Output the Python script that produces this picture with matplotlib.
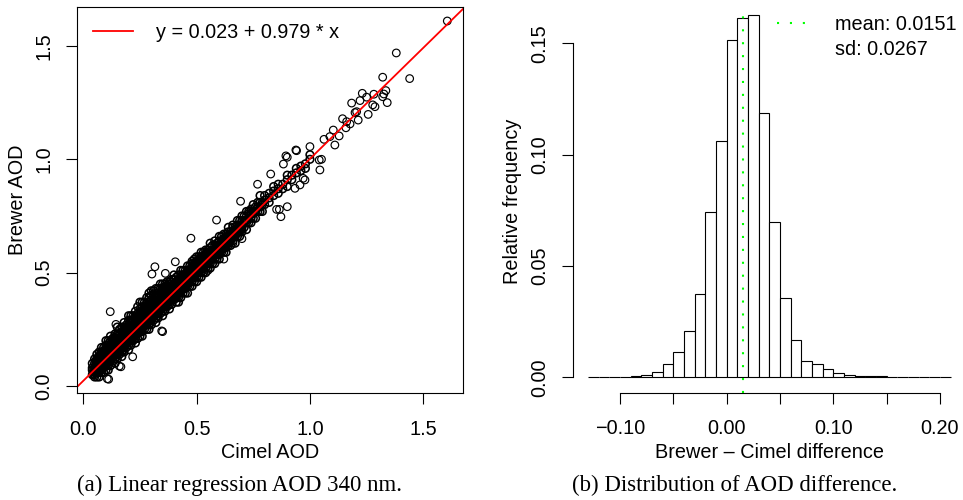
import matplotlib
matplotlib.use("Agg")
import matplotlib.pyplot as plt
from matplotlib.lines import Line2D
import numpy as np

plt.rcParams['font.family'] = ['Liberation Sans', 'DejaVu Sans']

# --- (a) scatter: Cimel vs Brewer AOD
band_x = [0.04, 0.05, 0.06, 0.07, 0.08, 0.09, 0.10, 0.11, 0.12, 0.13,
          0.14, 0.15, 0.16, 0.17, 0.18, 0.19, 0.20, 0.21, 0.22, 0.23,
          0.24, 0.25, 0.26, 0.27, 0.28, 0.29, 0.30, 0.31, 0.32, 0.33,
          0.34, 0.35, 0.36, 0.37, 0.38, 0.39, 0.40, 0.41, 0.42, 0.43,
          0.44, 0.45, 0.46, 0.47, 0.48, 0.49, 0.50, 0.51, 0.52, 0.53,
          0.54, 0.55, 0.56, 0.57, 0.58, 0.59, 0.60, 0.61, 0.62, 0.63,
          0.64, 0.65, 0.66, 0.67, 0.68, 0.69, 0.70, 0.71, 0.72, 0.73,
          0.74, 0.75, 0.76, 0.77, 0.78, 0.79, 0.80, 0.82, 0.84, 0.86,
          0.88, 0.90, 0.92, 0.94, 0.96, 0.98, 1.00]
band_y = [
    [0.05, 0.07, 0.08, 0.10],
    [0.04, 0.05, 0.06, 0.07, 0.08, 0.10, 0.12],
    [0.04, 0.06, 0.07, 0.08, 0.09, 0.10, 0.12, 0.14],
    [0.04, 0.06, 0.08, 0.09, 0.10, 0.12, 0.13, 0.15],
    [0.06, 0.08, 0.09, 0.10, 0.12, 0.13, 0.15, 0.17],
    [0.06, 0.08, 0.09, 0.11, 0.12, 0.13, 0.15, 0.17],
    [0.07, 0.09, 0.11, 0.12, 0.13, 0.15, 0.16, 0.18, 0.20],
    [0.07, 0.09, 0.11, 0.12, 0.13, 0.15, 0.16, 0.18, 0.20],
    [0.09, 0.11, 0.13, 0.14, 0.15, 0.16, 0.18, 0.20, 0.22],
    [0.11, 0.13, 0.14, 0.15, 0.17, 0.18, 0.20, 0.21],
    [0.10, 0.12, 0.14, 0.16, 0.17, 0.18, 0.20, 0.21, 0.23],
    [0.12, 0.14, 0.16, 0.17, 0.18, 0.20, 0.21, 0.23, 0.26],
    [0.14, 0.15, 0.17, 0.18, 0.20, 0.21, 0.23, 0.25],
    [0.13, 0.15, 0.17, 0.18, 0.19, 0.20, 0.22, 0.24, 0.26],
    [0.15, 0.17, 0.19, 0.20, 0.22, 0.23, 0.24, 0.26, 0.28],
    [0.17, 0.19, 0.20, 0.21, 0.22, 0.24, 0.26, 0.27],
    [0.16, 0.18, 0.20, 0.21, 0.22, 0.24, 0.25, 0.27, 0.29, 0.31],
    [0.18, 0.20, 0.22, 0.23, 0.24, 0.25, 0.27, 0.29, 0.31],
    [0.20, 0.22, 0.23, 0.24, 0.26, 0.27, 0.29, 0.31],
    [0.19, 0.21, 0.23, 0.25, 0.26, 0.27, 0.29, 0.31, 0.33],
    [0.21, 0.23, 0.25, 0.26, 0.27, 0.29, 0.30, 0.32, 0.35],
    [0.22, 0.24, 0.25, 0.27, 0.28, 0.29, 0.31, 0.32, 0.34, 0.37],
    [0.22, 0.24, 0.26, 0.27, 0.28, 0.30, 0.31, 0.33, 0.35, 0.37],
    [0.25, 0.27, 0.28, 0.29, 0.30, 0.32, 0.33, 0.35, 0.37],
    [0.25, 0.27, 0.29, 0.30, 0.32, 0.33, 0.35, 0.37, 0.39],
    [0.25, 0.27, 0.29, 0.31, 0.32, 0.33, 0.35, 0.37, 0.39, 0.41],
    [0.27, 0.29, 0.31, 0.32, 0.33, 0.35, 0.36, 0.38, 0.40, 0.42],
    [0.29, 0.31, 0.32, 0.33, 0.35, 0.36, 0.38, 0.40, 0.42],
    [0.28, 0.30, 0.32, 0.33, 0.34, 0.36, 0.37, 0.39, 0.41, 0.43],
    [0.30, 0.32, 0.34, 0.35, 0.36, 0.37, 0.39, 0.41, 0.43],
    [0.32, 0.34, 0.35, 0.36, 0.37, 0.39, 0.41, 0.43, 0.45],
    [0.31, 0.33, 0.35, 0.37, 0.38, 0.39, 0.41, 0.43, 0.45],
    [0.33, 0.35, 0.37, 0.38, 0.39, 0.41, 0.42, 0.44, 0.45],
    [0.35, 0.37, 0.38, 0.39, 0.41, 0.42, 0.44, 0.46],
    [0.34, 0.36, 0.38, 0.39, 0.40, 0.42, 0.43, 0.45, 0.46],
    [0.36, 0.38, 0.40, 0.41, 0.42, 0.43, 0.45, 0.47],
    [0.38, 0.40, 0.41, 0.42, 0.43, 0.45, 0.47, 0.49],
    [0.37, 0.39, 0.40, 0.42, 0.43, 0.44, 0.46, 0.48],
    [0.37, 0.39, 0.41, 0.43, 0.44, 0.46, 0.47, 0.49],
    [0.39, 0.41, 0.43, 0.44, 0.46, 0.47, 0.49, 0.51],
    [0.41, 0.43, 0.44, 0.45, 0.46, 0.48, 0.49, 0.51],
    [0.41, 0.43, 0.45, 0.46, 0.48, 0.49, 0.51],
    [0.41, 0.44, 0.45, 0.47, 0.48, 0.49, 0.51, 0.53],
    [0.44, 0.46, 0.47, 0.48, 0.49, 0.51, 0.53],
    [0.44, 0.46, 0.48, 0.49, 0.51, 0.52, 0.54, 0.55],
    [0.46, 0.48, 0.50, 0.51, 0.52, 0.54, 0.56],
    [0.46, 0.48, 0.50, 0.51, 0.52, 0.54, 0.55, 0.57],
    [0.48, 0.50, 0.51, 0.52, 0.54, 0.55, 0.57],
    [0.48, 0.50, 0.52, 0.53, 0.54, 0.55, 0.57, 0.59],
    [0.50, 0.52, 0.54, 0.55, 0.57, 0.59],
    [0.50, 0.52, 0.54, 0.55, 0.57, 0.58, 0.60],
    [0.52, 0.54, 0.55, 0.56, 0.57, 0.59, 0.60],
    [0.52, 0.54, 0.56, 0.57, 0.59, 0.61, 0.63],
    [0.54, 0.56, 0.58, 0.59, 0.60, 0.62],
    [0.54, 0.56, 0.58, 0.59, 0.60, 0.62, 0.64],
    [0.56, 0.58, 0.59, 0.60, 0.62, 0.63],
    [0.56, 0.58, 0.60, 0.61, 0.62, 0.64, 0.66],
    [0.59, 0.60, 0.62, 0.63, 0.64, 0.66],
    [0.59, 0.61, 0.62, 0.63, 0.65, 0.67],
    [0.59, 0.61, 0.63, 0.64, 0.65, 0.67],
    [0.62, 0.63, 0.65, 0.66, 0.68, 0.70],
    [0.62, 0.64, 0.65, 0.66, 0.68],
    [0.64, 0.66, 0.67, 0.68, 0.70, 0.71],
    [0.63, 0.66, 0.68, 0.69, 0.70],
    [0.66, 0.68, 0.69, 0.71, 0.73],
    [0.66, 0.68, 0.70, 0.71, 0.73],
    [0.68, 0.70, 0.71, 0.73, 0.75],
    [0.70, 0.72, 0.73, 0.75],
    [0.69, 0.72, 0.73, 0.75, 0.77],
    [0.72, 0.74, 0.76, 0.77],
    [0.72, 0.74, 0.76, 0.78],
    [0.74, 0.76, 0.77, 0.80],
    [0.74, 0.77, 0.79],
    [0.77, 0.79, 0.81],
    [0.77, 0.79, 0.81, 0.84],
    [0.77, 0.80, 0.81],
    [0.80, 0.82, 0.84],
    [0.81, 0.83, 0.85],
    [0.84, 0.86, 0.88],
    [0.85, 0.87, 0.89],
    [0.87, 0.89],
    [0.88, 0.91, 0.93],
    [0.91, 0.93],
    [0.94, 0.96],
    [0.95, 0.97],
    [0.96, 0.98],
    [1.00, 1.02],
]
# the solid core of the band, between the columns above
core_x = [0.055, 0.065, 0.075, 0.085, 0.095, 0.105, 0.115, 0.125, 0.135, 0.145,
          0.155, 0.165, 0.175, 0.185, 0.195, 0.205, 0.215, 0.225, 0.235, 0.245,
          0.255, 0.265, 0.275, 0.285, 0.295, 0.305, 0.315, 0.325, 0.335, 0.345,
          0.355, 0.365, 0.375, 0.385, 0.395, 0.405, 0.415, 0.425, 0.435, 0.445,
          0.455, 0.465, 0.475, 0.485, 0.495, 0.505, 0.515, 0.525, 0.535, 0.545,
          0.555, 0.565, 0.575, 0.585, 0.595, 0.605, 0.615, 0.625, 0.635, 0.645,
          0.655, 0.665, 0.675, 0.685, 0.695]
core_y = [
    [0.06, 0.08, 0.09, 0.11],
    [0.06, 0.08, 0.09, 0.11, 0.12],
    [0.07, 0.09, 0.10, 0.12, 0.14],
    [0.08, 0.10, 0.11, 0.13, 0.15],
    [0.09, 0.10, 0.12, 0.14, 0.16],
    [0.10, 0.12, 0.13, 0.15, 0.17],
    [0.11, 0.13, 0.14, 0.16, 0.19],
    [0.12, 0.13, 0.15, 0.17, 0.19],
    [0.13, 0.15, 0.16, 0.18, 0.20],
    [0.14, 0.16, 0.18, 0.19, 0.21],
    [0.15, 0.17, 0.18, 0.20, 0.23],
    [0.16, 0.17, 0.19, 0.21, 0.23],
    [0.17, 0.19, 0.20, 0.22, 0.24],
    [0.18, 0.20, 0.21, 0.24, 0.25],
    [0.19, 0.21, 0.22, 0.24, 0.26],
    [0.20, 0.21, 0.23, 0.25, 0.28],
    [0.21, 0.23, 0.24, 0.26, 0.28],
    [0.22, 0.24, 0.25, 0.27, 0.30],
    [0.23, 0.25, 0.26, 0.28, 0.30],
    [0.24, 0.25, 0.27, 0.29, 0.31],
    [0.25, 0.27, 0.28, 0.30, 0.33],
    [0.26, 0.28, 0.29, 0.31, 0.33],
    [0.27, 0.29, 0.30, 0.32, 0.34],
    [0.28, 0.29, 0.31, 0.33, 0.36],
    [0.29, 0.31, 0.32, 0.34, 0.36],
    [0.30, 0.32, 0.33, 0.35, 0.37],
    [0.31, 0.33, 0.34, 0.37, 0.38],
    [0.32, 0.33, 0.35, 0.37, 0.39],
    [0.33, 0.35, 0.36, 0.38, 0.40],
    [0.34, 0.36, 0.37, 0.39, 0.42],
    [0.35, 0.37, 0.38, 0.40, 0.42],
    [0.36, 0.37, 0.39, 0.41, 0.43],
    [0.37, 0.39, 0.40, 0.42],
    [0.38, 0.40, 0.41, 0.43],
    [0.39, 0.41, 0.42, 0.44],
    [0.40, 0.41, 0.43, 0.45],
    [0.41, 0.43, 0.44, 0.46],
    [0.42, 0.44, 0.45, 0.47],
    [0.43, 0.45, 0.46, 0.48],
    [0.44, 0.45, 0.47, 0.49],
    [0.45, 0.47, 0.48, 0.50],
    [0.46, 0.48, 0.49, 0.51],
    [0.47, 0.49, 0.50, 0.52],
    [0.48, 0.49, 0.51, 0.53],
    [0.49, 0.51, 0.52, 0.54],
    [0.50, 0.52, 0.53, 0.55],
    [0.51, 0.53, 0.54, 0.56],
    [0.52, 0.53, 0.55, 0.57],
    [0.53, 0.55, 0.56, 0.58],
    [0.54, 0.56, 0.57, 0.59],
    [0.55, 0.57, 0.58],
    [0.56, 0.57, 0.59],
    [0.57, 0.59, 0.60],
    [0.58, 0.60, 0.61],
    [0.59, 0.61, 0.62],
    [0.60, 0.61, 0.63],
    [0.61, 0.63, 0.64],
    [0.62, 0.64, 0.65],
    [0.63, 0.65, 0.66],
    [0.64, 0.65, 0.67],
    [0.65, 0.67],
    [0.66, 0.68],
    [0.67, 0.69],
    [0.68, 0.69],
    [0.69, 0.71],
]
# scattered points away from the dense band
outlier_x = [1.606, 1.381, 1.440, 1.321, 1.335, 1.341, 1.231, 1.282, 1.184, 1.221,
             1.250, 1.321, 1.326, 1.277, 1.287, 1.257, 1.206, 1.199, 1.213, 1.144,
             1.162, 1.177, 1.159, 1.103, 1.129, 1.088, 1.062, 1.041, 1.000, 1.110,
             0.938, 0.900, 0.883, 0.827, 0.769, 0.694, 0.588, 0.475, 0.900, 0.872,
             0.865, 0.956, 0.978, 1.044, 0.894, 0.941, 1.051, 0.970, 0.934, 0.853,
             0.119, 0.144, 0.316, 0.406, 0.303, 0.362, 0.166, 0.112, 0.218, 0.350,
             0.346, 0.159, 0.106, 0.62, 0.70, 0.55, 0.66]
outlier_y = [1.610, 1.469, 1.356, 1.362, 1.303, 1.250, 1.291, 1.287, 1.248, 1.259,
             1.274, 1.276, 1.288, 1.240, 1.232, 1.198, 1.210, 1.206, 1.173, 1.179,
             1.166, 1.156, 1.139, 1.129, 1.103, 1.100, 1.088, 0.997, 1.056, 1.063,
             1.041, 1.009, 0.979, 0.935, 0.890, 0.815, 0.732, 0.652, 0.791, 0.747,
             0.779, 0.887, 0.909, 0.953, 1.015, 1.038, 1.000, 0.916, 0.872, 0.779,
             0.328, 0.272, 0.526, 0.548, 0.494, 0.497, 0.085, 0.030, 0.129, 0.240,
             0.243, 0.088, 0.032, 0.56, 0.65, 0.51, 0.63]
fit_a, fit_b = 0.023, 0.979

# --- (b) histogram of Brewer - Cimel difference (relative frequency, bin 0.01)
bin_left = np.round(np.arange(-0.13, 0.205, 0.01), 2)
rel_freq = [0.0001, 0.0001, 0.0001, 0.0002, 0.0006, 0.0011, 0.0025, 0.0061,
            0.0115, 0.0206, 0.0372, 0.0743, 0.1062, 0.1515, 0.1613, 0.1628,
            0.1189, 0.0696, 0.0355, 0.0166, 0.0073, 0.0058, 0.0036, 0.0018,
            0.0009, 0.0007, 0.0005, 0.0004, 0.0003, 0.0001, 0.0001, 0.0001,
            0.0001, 0.0003]
diff_mean, diff_sd = 0.0151, 0.0267

fs = 14.3
fig = plt.figure(figsize=(9.63, 5.0), dpi=100)

# scatter panel
ax1 = fig.add_axes([76.7/963, 1 - 393.3/500, 386/963, 386.6/500])
cols_x = band_x + core_x
cols_y = band_y + core_y
cx = np.concatenate([[x]*len(ys) for x, ys in zip(cols_x, cols_y)])
by = np.concatenate([np.array(ys) for ys in cols_y])
ax1.scatter(cx, by, s=30, facecolors='none', edgecolors='black', linewidths=1.15)
ax1.scatter(outlier_x, outlier_y, s=30, facecolors='none', edgecolors='black',
            linewidths=0.85)
ax1.axline((0, fit_a), slope=fit_b, color='red', lw=1.3)
ax1.set_xlim(-0.029, 1.674)
ax1.set_ylim(-0.032, 1.673)
ax1.set_xticks([0.0, 0.5, 1.0, 1.5])
ax1.set_yticks([0.0, 0.5, 1.0, 1.5])
ax1.xaxis.set_major_formatter(lambda v, p: f"{v:.1f}")
ax1.yaxis.set_major_formatter(lambda v, p: f"{v:.1f}")
ax1.set_xlabel("Cimel AOD", fontsize=fs)
ax1.set_ylabel("Brewer AOD", fontsize=fs)
ax1.xaxis.set_label_coords(0.5, -(452.5 - 393.3)/386.6)
ax1.xaxis.label.set_va('center')
ax1.yaxis.set_label_coords(-(76.7 - 18)/386, 0.5)
ax1.yaxis.label.set_va('center')
ax1.legend(handles=[Line2D([], [], color='red', lw=1.3)],
           labels=["y = 0.023 + 0.979 * x"], loc='upper left',
           bbox_to_anchor=(0.042, 0.957), frameon=False, fontsize=fs,
           handlelength=2.0, handletextpad=1.2, borderaxespad=0, borderpad=0)

# histogram panel
ax2 = fig.add_axes([573.3/963, 1 - 392.7/500, 391.7/963, 383.7/500])
ax2.bar(bin_left, rel_freq, width=0.01, align='edge', facecolor='white',
        edgecolor='black', linewidth=0.8)
ax2.axvline(diff_mean, color='#00ff00', lw=1.5, dashes=(1, 5.2))
ax2.set_xlim(-0.1438, 0.2236)
ax2.set_ylim(-0.0069, 0.1654)
for s in ['top', 'right']:
    ax2.spines[s].set_visible(False)
ax2.spines['left'].set_bounds(0, 0.15)
ax2.spines['bottom'].set_bounds(-0.10, 0.20)
ax2.set_xticks([-0.10, -0.05, 0.0, 0.05, 0.10, 0.15, 0.20])
ax2.set_xticklabels(["\u22120.10", "", "0.00", "", "0.10", "", "0.20"])
ax2.set_yticks([0.0, 0.05, 0.10, 0.15])
ax2.yaxis.set_major_formatter(lambda v, p: f"{v:.2f}")
ax2.set_xlabel("Brewer \u2013 Cimel difference", fontsize=fs)
ax2.set_ylabel("Relative frequency", fontsize=fs)
ax2.xaxis.set_label_coords(0.5, -(452.5 - 392.7)/383.7)
ax2.xaxis.label.set_va('center')
ax2.yaxis.set_label_coords(-(573.3 - 513)/391.7, 0.5)
ax2.yaxis.label.set_va('center')
ax2.legend(handles=[Line2D([], [], color='#00ff00', lw=1.5, dashes=(1, 5.2)),
                    Line2D([], [], linestyle='none')],
           labels=[f"mean: {diff_mean}", f"sd: {diff_sd}"], loc='upper left',
           bbox_to_anchor=((776.7 - 573.3)/391.7, 1 - (14.5 - 9)/383.7),
           frameon=False, fontsize=fs, handlelength=1.45, handletextpad=1.5,
           labelspacing=0.34, borderaxespad=0, borderpad=0)

for ax in (ax1, ax2):
    ax.tick_params(direction='out', length=8, width=0.8, labelsize=fs)
    ax.tick_params(axis='x', pad=11)
    ax.tick_params(axis='y', pad=9, labelrotation=90)
    for lab in ax.get_yticklabels():
        lab.set_va('center')
    for sp in ax.spines.values():
        sp.set_linewidth(0.8)

fig.text(239.7/963, 1 - 485.5/500, "(a) Linear regression AOD 340 nm.",
         family='Liberation Serif', fontsize=16.5, ha='center', va='center')
fig.text(734.5/963, 1 - 485.5/500, "(b) Distribution of AOD difference.",
         family='Liberation Serif', fontsize=16.5, ha='center', va='center')

fig.savefig("out.png", dpi=100)
